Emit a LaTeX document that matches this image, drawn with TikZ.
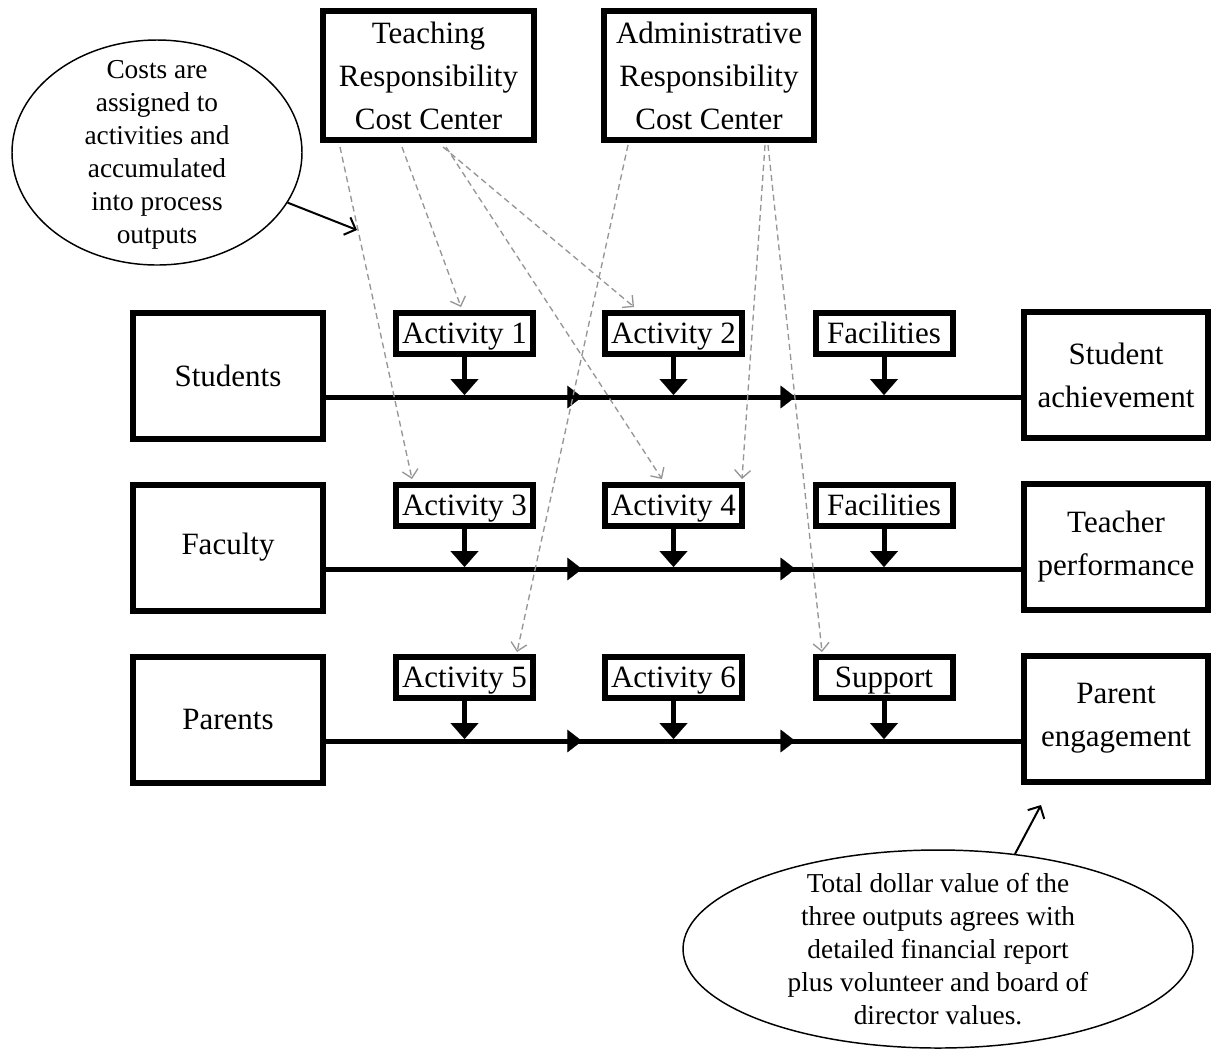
\documentclass[tikz,border=0pt]{standalone}
\usepackage{fontspec}
\setmainfont{Liberation Serif}
\usetikzlibrary{arrows.meta,shapes.geometric,calc,decorations.markings}
\definecolor{dashgray}{RGB}{150,150,150}
\begin{document}
\begin{tikzpicture}[x=0.75pt,y=-0.75pt,
  boxfont/.style={font=\fontsize{23.25pt}{32.25pt}\selectfont},
  sqbox/.style 2 args={draw, line width=4.5pt, inner sep=0pt, align=center, boxfont,
    minimum width={#1*0.75pt}, minimum height={#2*0.75pt}},
  costcenter/.style={sqbox={211}{129}},
  rowbox/.style={sqbox={190}{126}},
  outbox/.style={sqbox={184}{126}},
  actbox/.style={sqbox={137}{41}, text height=15.4pt, text depth=0pt},
  mainline/.style={line width=3.75pt, postaction={decorate},
    decoration={markings,
      mark=at position 192pt with {\arrow{Triangle[length=11pt,width=17pt,line width=0.1pt]}},
      mark=at position 352pt with {\arrow{Triangle[length=11pt,width=17pt,line width=0.1pt]}}}},
  downarr/.style={line width=3.75pt, -{Triangle[length=12pt,width=21pt,line width=0.1pt]}, shorten >=1.5pt},
  costarr/.style={draw=dashgray, line width=1pt, dash pattern=on 4.5pt off 3pt,
    -{Straight Barb[length=6pt,width=12pt]}},
  noteellipse/.style={draw, ellipse, line width=1.1pt, inner sep=0pt},
  notetext/.style={font=\fontsize{20.5pt}{24.75pt}\selectfont, align=center, inner sep=0pt},
  notearr/.style={line width=1.5pt, -{Straight Barb[length=7pt,width=14pt]}}
]
\path[fill=white, use as bounding box] (0,0) rectangle (1212,1051);

% cost centers
\node[costcenter] (teach) at (428.5,75.5) {Teaching\\Responsibility\\Cost Center};
\node[sqbox={210}{129}] (admin) at (709,75.5) {Administrative\\Responsibility\\Cost Center};

% row boxes
\node[rowbox] (stu) at (228,376) {Students};
\node[rowbox] (fac) at (228,547.5) {Faculty};
\node[rowbox] (par) at (228,719.5) {Parents};
\node[outbox] (ach) at (1116,375) {Student\\achievement};
\node[outbox] (perf) at (1116,546.5) {Teacher\\performance};
\node[outbox] (eng) at (1116,718.5) {Parent\\engagement};

% activities
\node[actbox] (a1) at (464.5,333.5) {Activity 1};
\node[actbox] (a2) at (673.5,333.5) {Activity 2};
\node[actbox] (f1) at (884,333.5) {Facilities};
\node[actbox] (a3) at (464.5,505.5) {Activity 3};
\node[actbox] (a4) at (673.5,505.5) {Activity 4};
\node[actbox] (f2) at (884,505.5) {Facilities};
\node[actbox] (a5) at (464.5,677.5) {Activity 5};
\node[actbox] (a6) at (673.5,677.5) {Activity 6};
\node[actbox] (sup) at (884,677.5) {Support};

% main process lines
\coordinate (l1) at ($(stu.east)+(0,21)$);
\coordinate (l1e) at ($(ach.west)+(0,22)$);
\coordinate (l2) at ($(fac.east)+(0,21.5)$);
\coordinate (l2e) at ($(perf.west)+(0,22.5)$);
\coordinate (l3) at ($(par.east)+(0,21.5)$);
\coordinate (l3e) at ($(eng.west)+(0,22.5)$);
\draw[mainline] (l1) -- (l1e);
\draw[mainline] (l2) -- (l2e);
\draw[mainline] (l3) -- (l3e);

% down arrows
\foreach \n/\l in {a1/l1,a2/l1,f1/l1,a3/l2,a4/l2,f2/l2,a5/l3,a6/l3,sup/l3}
  \draw[downarr] (\n.south) -- (\n.south |- \l);

% cost assignment arrows
\draw[costarr] ($(teach.south)+(-88.5,4)$) -- ($(a3.north)+(-52.5,-3)$);
\draw[costarr] ($(teach.south)+(-26.5,4)$) -- ($(a1.north)+(-3.5,-3)$);
\draw[costarr] ($(teach.south)+(14.5,4)$) -- ($(a2.north)+(-39.5,-3)$);
\draw[costarr] ($(teach.south)+(17.5,4)$) -- ($(a4.north)+(-11.5,-3)$);
\draw[costarr] ($(admin.south)+(-81,2)$) -- ($(a5.north)+(52.5,-2)$);
\draw[costarr] ($(admin.south)+(56,2)$) -- ($(a4.north)+(68.5,-3)$);
\draw[costarr] ($(admin.south)+(59,2)$) -- ($(sup.north)+(-62,-2)$);

% notes
\node[noteellipse, minimum width=217.5pt, minimum height=168.75pt] (e1) at (157,152.5) {};
\node[notetext] (e1t) at ($(e1.center)+(0,2)$) {Costs are\\assigned to\\activities and\\accumulated\\into process\\outputs};
\coordinate (e1tip) at (357,230);
\draw[notearr] (e1.-21.5) -- (e1tip);

\node[noteellipse, minimum width=382.5pt, minimum height=148.5pt] (e2) at (938,949) {};
\node[notetext] (e2t) at (e2.center) {Total dollar value of the\\three outputs agrees with\\detailed financial report\\plus volunteer and board of\\director values.};
\coordinate (e2tip) at (1041,805);
\draw[notearr] (e2.51) -- (e2tip);
\end{tikzpicture}
\end{document}
